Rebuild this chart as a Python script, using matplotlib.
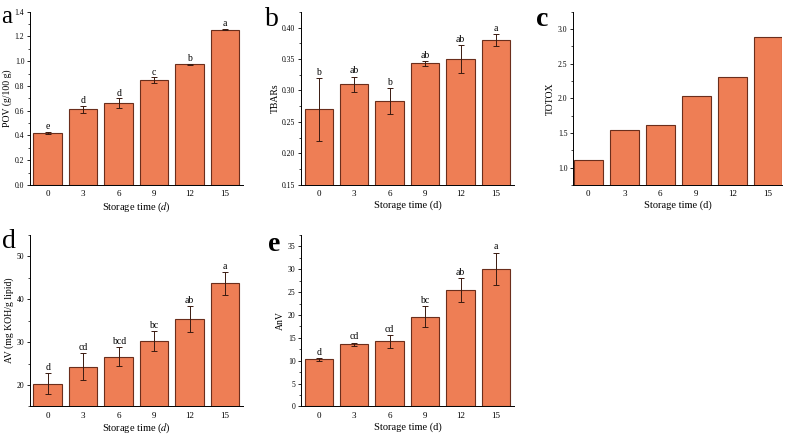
import numpy as np
from matplotlib import pyplot as plt
from matplotlib.ticker import AutoMinorLocator

plt.rcParams['font.family'] = ['Liberation Serif', 'DejaVu Serif']
plt.rcParams['mathtext.fontset'] = 'stix'

days = ['0', '3', '6', '9', '12', '15']

pov = [0.42, 0.61, 0.66, 0.845, 0.975, 1.255]
pov_err = [0.01, 0.03, 0.04, 0.025, 0.005, 0.005]
pov_sig = ['e', 'd', 'd', 'c', 'b', 'a']

tbars = [0.27, 0.31, 0.283, 0.343, 0.35, 0.38]
tbars_err = [0.05, 0.012, 0.021, 0.004, 0.022, 0.010]
tbars_sig = ['b', 'ab', 'b', 'ab', 'ab', 'a']

totox = [1.11, 1.54, 1.615, 2.035, 2.315, 2.89]

av = [20.3, 24.3, 26.6, 30.3, 35.4, 43.7]
av_err = [2.5, 3.2, 2.2, 2.3, 3.0, 2.7]
av_sig = ['d', 'cd', 'bcd', 'bc', 'ab', 'a']

anv = [10.3, 13.6, 14.2, 19.6, 25.4, 30.1]
anv_err = [0.3, 0.3, 1.4, 2.3, 2.6, 3.5]
anv_sig = ['d', 'cd', 'cd', 'bc', 'ab', 'a']

bar_color = '#EE7E55'
edge_color = '#6b2e1c'

fig = plt.figure(figsize=(7.88, 4.36), dpi=100)


def panel(rect, values, err, sig, ylim, yticks, ylabel, xlabel, xlim=(-0.5, 5.5), fmt='{:.1f}', pad=0.0):
    ax = fig.add_axes(rect)
    x = np.arange(len(days))
    ax.bar(x, values, width=0.8, color=bar_color, edgecolor=edge_color, linewidth=0.8, zorder=2)
    if err is not None:
        ax.errorbar(x, values, yerr=err, fmt='none', ecolor='#3a1a10', elinewidth=0.7,
                    capsize=2, capthick=0.7, zorder=3)
        for xi, v, e, s in zip(x, values, err, sig):
            ax.text(xi, v + e + pad, s, ha='center', va='bottom', fontsize=7)
    ax.set_xlim(*xlim)
    ax.set_ylim(*ylim)
    ax.set_xticks(x)
    ax.set_xticklabels(days)
    ax.set_yticks(yticks)
    ax.set_yticklabels([fmt.format(t) for t in yticks])
    ax.yaxis.set_minor_locator(AutoMinorLocator(2))
    ax.tick_params(axis='y', which='major', length=2.5, width=0.6, labelsize=5.5, pad=1.5)
    ax.tick_params(axis='y', which='minor', length=1.5, width=0.5)
    ax.tick_params(axis='x', length=0, labelsize=6.5, pad=4)
    for s in ['top', 'right']:
        ax.spines[s].set_visible(False)
    for s in ['left', 'bottom']:
        ax.spines[s].set_linewidth(0.7)
    ax.set_ylabel(ylabel, fontsize=7, labelpad=2)
    ax.set_xlabel(xlabel, fontsize=7.5, labelpad=1.5)
    return ax


panel([0.038, 0.576, 0.270, 0.397], pov, pov_err, pov_sig, (0, 1.4),
      np.arange(0, 1.41, 0.2), 'POV (g/100 g)', r'Storage time ($\it{d}$)', pad=0.005)
panel([0.382, 0.576, 0.270, 0.397], tbars, tbars_err, tbars_sig, (0.15, 0.425),
      np.arange(0.15, 0.401, 0.05), 'TBARs', 'Storage time (d)', fmt='{:.2f}', pad=0.002)
panel([0.727, 0.576, 0.266, 0.397], totox, None, None, (0.75, 3.25),
      np.arange(1.0, 3.01, 0.5), 'TOTOX', 'Storage time (d)', xlim=(-0.43, 5.4))
panel([0.038, 0.068, 0.270, 0.393], av, av_err, av_sig, (15, 55),
      np.arange(20, 51, 10), 'AV (mg KOH/g lipid)', r'Storage time ($\it{d}$)', fmt='{:.0f}', pad=0.3)
panel([0.382, 0.068, 0.270, 0.393], anv, anv_err, anv_sig, (0, 37.5),
      np.arange(0, 36, 5), 'AnV', 'Storage time (d)', fmt='{:.0f}', pad=0.3)

# panel letters
fig.text(0.002, 0.962, 'a', fontsize=18, va='center')
fig.text(0.336, 0.955, 'b', fontsize=20, va='center')
fig.text(0.680, 0.955, 'c', fontsize=20, va='center', fontweight='bold')
fig.text(0.003, 0.445, 'd', fontsize=20, va='center')
fig.text(0.340, 0.440, 'e', fontsize=20, va='center', fontweight='bold')

fig.savefig('out.png', dpi=100)
